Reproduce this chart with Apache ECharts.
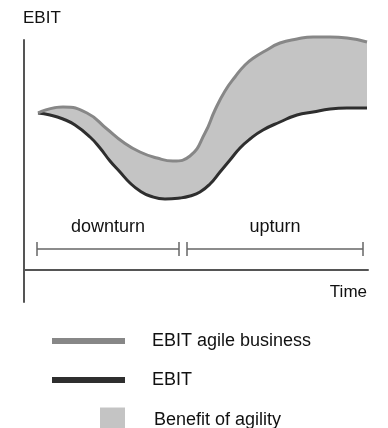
<!DOCTYPE html>
<html>
<head>
<meta charset="utf-8">
<script src="https://cdn.jsdelivr.net/npm/echarts@6/dist/echarts.min.js"></script>
<style>
  html, body { margin: 0; padding: 0; background: #fff; }
  #chart { width: 388px; height: 428px; }
</style>
</head>
<body>
<div id="chart"></div>
<script>
// time (arbitrary units) and EBIT levels
const timeAgile = [14, 39, 63, 83, 99, 116, 133, 149, 166, 181, 191, 201, 211, 221, 231, 241, 256, 273, 289, 306, 323, 343];
const ebitAgile = [157, 163, 157, 141, 128, 118, 112, 109, 114, 137, 160, 179, 193, 205, 213, 219, 227, 231, 233, 233, 232, 228];
const timeEbit = [14, 26, 39, 51, 66, 76, 86, 96, 106, 116, 126, 141, 156, 166, 176, 186, 196, 206, 216, 226, 239, 256, 273, 289, 306, 323, 343];
const ebit = [157, 155, 151, 145, 133, 122, 109, 98, 87, 79, 74, 71, 72, 74, 78, 86, 98, 110, 122, 131, 140, 148, 155, 158, 161, 162, 162];
// phases: [label, start, end]
const phases = [["downturn", 13, 155], ["upturn", 163, 339]];
const bracketLevel = 21;
const tickHalf = 7;

const FONT = "'Liberation Sans', Arial, sans-serif";
const chart = echarts.init(document.getElementById("chart"));

const bracketLines = [];
phases.forEach((p) => {
  bracketLines.push([
    { coord: [p[1], bracketLevel], label: { show: true, formatter: p[0] } },
    { coord: [p[2], bracketLevel] },
  ]);
  [p[1], p[2]].forEach((x) => {
    bracketLines.push([
      { coord: [x, bracketLevel - tickHalf], label: { show: false } },
      { coord: [x, bracketLevel + tickHalf] },
    ]);
  });
});

const legendText = {
  fontSize: 18,
  fontFamily: FONT,
  color: "#111",
  lineHeight: 20,
};

const agilePts = timeAgile.map((t, i) => [t, ebitAgile[i]]);
const ebitPts = timeEbit.map((t, i) => [t, ebit[i]]);

const option = {
  animation: false,
  grid: { left: 24, right: 20, top: 40, bottom: 126 },
  xAxis: {
    type: "value",
    min: 0,
    max: 344,
    z: 10,
    axisLine: { show: true, onZero: true, lineStyle: { color: "#555", width: 2 } },
    axisTick: { show: false },
    axisLabel: { show: false },
    splitLine: { show: false },
    name: "Time",
    nameLocation: "end",
    nameGap: -1,
    nameTextStyle: {
      fontSize: 17,
      fontFamily: FONT,
      color: "#111",
      align: "right",
      verticalAlign: "top",
      padding: [14, 0, 0, 0],
    },
  },
  yAxis: {
    type: "value",
    min: -32,
    max: 230,
    z: 10,
    axisLine: { show: true, onZero: false, lineStyle: { color: "#555", width: 2 } },
    axisTick: { show: false },
    axisLabel: { show: false },
    splitLine: { show: false },
    name: "EBIT",
    nameLocation: "end",
    nameGap: 13,
    nameTextStyle: {
      fontSize: 17,
      fontFamily: FONT,
      color: "#111",
      align: "left",
      padding: [0, 0, 0, -1],
    },
  },
  legend: [
    {
      data: [{ name: "EBIT agile business", icon: "rect" }],
      left: 47,
      top: 326,
      itemWidth: 73,
      itemHeight: 6,
      textStyle: Object.assign({ padding: [0, 0, 0, 22] }, legendText),
    },
    {
      data: [{ name: "EBIT", icon: "rect" }],
      left: 47,
      top: 365,
      itemWidth: 73,
      itemHeight: 6,
      textStyle: Object.assign({ padding: [0, 0, 0, 22] }, legendText),
    },
    {
      data: [{ name: "Benefit of agility", icon: "rect" }],
      left: 95,
      top: 402,
      itemWidth: 25,
      itemHeight: 25,
      textStyle: Object.assign({ padding: [6, 0, 0, 24] }, legendText),
    },
  ],
  series: [
    {
      // gray band: filled under the agile curve, then masked below EBIT
      name: "Benefit of agility",
      type: "line",
      data: agilePts,
      smooth: 0.5,
      showSymbol: false,
      clip: false,
      z: 1,
      color: "#c4c4c4",
      itemStyle: { color: "#c4c4c4" },
      lineStyle: { width: 0, opacity: 0 },
      areaStyle: { color: "#c4c4c4", opacity: 1, origin: "start" },
    },
    {
      name: "EBIT",
      type: "line",
      data: ebitPts,
      smooth: 0.5,
      showSymbol: false,
      clip: false,
      z: 2,
      color: "#2e2e2e",
      itemStyle: { color: "#2e2e2e" },
      lineStyle: { color: "#2e2e2e", width: 3 },
      areaStyle: { color: "#fff", opacity: 1, origin: "start" },
    },
    {
      name: "EBIT agile business",
      type: "line",
      data: agilePts,
      smooth: 0.5,
      showSymbol: false,
      clip: false,
      z: 3,
      color: "#878787",
      itemStyle: { color: "#878787" },
      lineStyle: { color: "#878787", width: 3 },
    },
    {
      name: "phases",
      type: "line",
      data: [],
      silent: true,
      z: 10,
      markLine: {
        silent: true,
        symbol: "none",
        z: 10,
        lineStyle: { color: "#666", width: 1.5, type: "solid" },
        label: {
          position: "middle",
          distance: 13,
          fontSize: 18,
          fontFamily: FONT,
          color: "#111",
        },
        data: bracketLines,
      },
    },
  ],
};

chart.setOption(option);
</script>
</body>
</html>
